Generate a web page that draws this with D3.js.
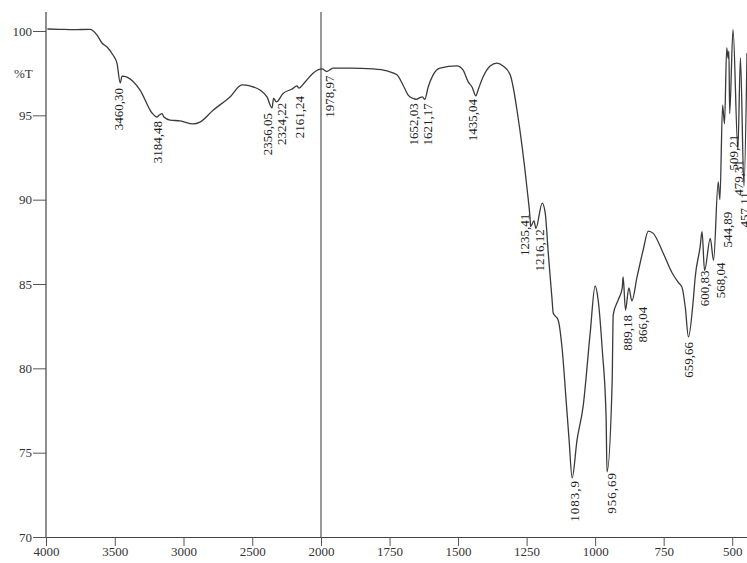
<!DOCTYPE html>
<html>
<head>
<meta charset="utf-8">
<script src="https://cdn.jsdelivr.net/npm/d3@7"></script>
<style>
  body { margin: 0; background: #fff; }
  svg { display: block; }
  .tick text { font-family: "Liberation Serif", "Times New Roman", serif; font-size: 13px; fill: #333; }
  .peak { font-family: "Liberation Serif", "Times New Roman", serif; font-size: 13px; fill: #222; }
</style>
</head>
<body>
<div id="container"></div>
<script>
/* CONSTANTS AND GLOBALS */
const width = 747,
  height = 563,
  margin = { top: 12, bottom: 26, left: 46, right: 0 };

/* DATA */
// wavenumber (cm-1) of each traced point, high to low
const wavenumbers = [
  3990, 3900, 3800, 3680, 3629, 3593, 3556, 3513, 3484, 3460,
  3447, 3411, 3316, 3229, 3193, 3184, 3156, 3142, 3098, 3025,
  2931, 2880, 2785, 2662, 2575, 2516, 2444, 2393, 2356.05, 2345,
  2324.22, 2276, 2211, 2175, 2161.24, 2116, 2058, 1996, 1978.97, 1956,
  1894, 1810, 1759, 1723, 1701, 1682, 1664, 1652.03, 1639, 1630,
  1621.17, 1609, 1591, 1566, 1504, 1482, 1463, 1449, 1435.04, 1427,
  1409, 1383, 1358, 1336, 1310, 1299, 1285, 1266, 1248, 1237,
  1235.41, 1223, 1216.12, 1193, 1182, 1171, 1157, 1153, 1135, 1120,
  1106, 1095, 1083.9, 1066, 1044, 1018, 1000, 989, 974, 960,
  956.69, 938, 934, 916, 901, 898, 889.18, 877, 866.04, 847,
  825, 806, 788, 752, 719, 697, 683, 671, 659.66, 642,
  635, 617, 610, 600.83, 580, 568.04, 551, 544.89, 535, 528,
  520, 515, 512, 509.21, 497, 479.31, 470, 457.11, 446
];
// transmittance (%T) at each wavenumber
const transmittance = [
  100.12, 100.1, 100.08, 100.1, 99.76, 99.29, 99.05, 98.58, 98.1, 96.92,
  97.33, 97.27, 96.5, 95.14, 94.9, 94.96, 95.1, 94.9, 94.72, 94.67,
  94.49, 94.6, 95.3, 96.09, 96.8, 96.74, 96.5, 96.09, 95.44, 96.0,
  95.8, 96.3, 96.56, 96.75, 96.62, 96.98, 97.5, 97.75, 97.6, 97.8,
  97.8, 97.75, 97.63, 97.4, 96.8, 96.2, 96.0, 95.95, 96.05, 96.1,
  95.95, 96.68, 97.4, 97.8, 97.93, 97.69, 96.98, 96.68, 96.15, 96.5,
  97.27, 97.93, 98.1, 97.93, 97.4, 96.68, 95.3, 93.1, 90.6, 88.8,
  88.4, 88.74, 88.3, 89.8, 89.2, 86.84, 84.05, 83.28, 82.87, 81.1,
  78.13, 75.76, 73.5, 75.76, 77.71, 82.1, 84.88, 84.05, 81.1, 77.1,
  73.86, 79.13, 83.17, 84.05, 84.77, 85.42, 83.46, 84.77, 84.0, 85.42,
  87.0, 88.14, 88.0, 86.84, 85.65, 85.1, 84.8, 83.6, 81.86, 84.05,
  85.4, 87.2, 88.1, 85.8, 87.7, 86.4, 91.05, 90.0, 95.6, 94.5,
  99.0, 98.4, 98.8, 95.1, 100.1, 93.0, 98.4, 90.8, 98.7
];

// peak labels (as printed on the spectrum)
const peakTexts = [
  "3460,30", "3184,48", "2356,05", "2324,22", "2161,24", "1978,97",
  "1652,03", "1621,17", "1435,04", "1235,41", "1216,12", "1083,9",
  "956,69", "889,18", "866,04", "659,66", "600,83", "568,04",
  "544,89", "509,21", "479,31", "457,11"
];
const peakWn = [
  3460, 3184, 2356.05, 2324.22, 2161.24, 1978.97,
  1652.03, 1621.17, 1435.04, 1235.41, 1216.12, 1083.9,
  956.69, 889.18, 866.04, 659.66, 600.83, 568.04,
  544.89, 509.21, 479.31, 457.11
];

const xTicks = [4000, 3500, 3000, 2500, 2000, 1750, 1500, 1250, 1000, 750, 500];
const yTicks = [70, 75, 80, 85, 90, 95, 100];

// label nudges in px [dx, dy] so the printed labels don't collide
const labelNudge = [
  [-2, 0], [-1, 0], [-5, 0], [5, -4], [1, 3], [3, -1],
  [-3, -1], [3, -1], [-3, -2], [-6, -18], [4, -4], [2, -3],
  [4, -5], [2, 0], [11, 1], [0, 0], [0, -5], [7, -3],
  [8, 7], [4, 16], [1, 6], [0, 1]
];
const spacedLabels = ["1083,9", "956,69"];

const data = wavenumbers.map((w, i) => ({ wn: w, t: transmittance[i] }));
const tAt = w => data.find(d => d.wn === w).t;

// SCALES (x scale doubles its stretch below 2000 cm-1)
const xScale = d3.scaleLinear()
  .domain([4000, 2000, 446])
  .range([margin.left, 321, width - margin.right]);

const yScale = d3.scaleLinear()
  .domain([70, 100])
  .range([height - margin.bottom, 31]);

// CREATE SVG ELEMENT
const svg = d3.select("#container")
  .append("svg")
  .attr("width", width)
  .attr("height", height)
  .style("background-color", "#fff");

// AXES
const xAxis = d3.axisBottom(xScale)
  .tickValues(xTicks)
  .tickFormat(d3.format("d"))
  .tickSize(9)
  .tickSizeOuter(0)
  .tickPadding(1);

const xAxisGroup = svg.append("g")
  .attr("class", "xAxis")
  .attr("transform", `translate(0, ${height - margin.bottom})`)
  .call(xAxis);
xAxisGroup.select(".domain").attr("stroke", "#444").attr("stroke-width", 1.2);
xAxisGroup.selectAll(".tick line").attr("stroke", "#555");

const yAxis = d3.axisLeft(yScale)
  .tickValues(yTicks)
  .tickSize(13)
  .tickPadding(1);

const yAxisGroup = svg.append("g")
  .attr("class", "yAxis")
  .attr("transform", `translate(${margin.left}, 0)`)
  .call(yAxis);
yAxisGroup.select(".domain").remove();
yAxisGroup.selectAll(".tick line").attr("stroke", "#555");

// axis line runs up past 100
yAxisGroup.append("line")
  .attr("y1", margin.top)
  .attr("y2", height - margin.bottom)
  .attr("stroke", "#444")
  .attr("stroke-width", 1.2);

yAxisGroup.append("text")
  .attr("class", "yLabel")
  .attr("x", -32)
  .attr("y", 78)
  .attr("text-anchor", "start")
  .attr("font-family", "Liberation Serif, Times New Roman, serif")
  .attr("font-size", 13)
  .attr("fill", "#333")
  .text("%T");

// divider at 2000 cm-1
svg.append("line")
  .attr("x1", xScale(2000))
  .attr("x2", xScale(2000))
  .attr("y1", margin.top)
  .attr("y2", height - margin.bottom)
  .attr("stroke", "#555")
  .attr("stroke-width", 1.2);

// LINE GENERATOR FUNCTION
const lineGen = d3.line()
  .x(d => xScale(d.wn))
  .y(d => yScale(d.t))
  .curve(d3.curveMonotoneX);

svg.append("path")
  .datum(data)
  .attr("class", "trend")
  .attr("fill", "none")
  .attr("stroke", "#3a3a3a")
  .attr("stroke-width", 1.3)
  .attr("d", lineGen);

// PEAK LABELS
svg.selectAll(".peak")
  .data(peakTexts)
  .join("text")
  .attr("class", "peak")
  .attr("text-anchor", "end")
  .attr("dy", "0.35em")
  .attr("letter-spacing", d => spacedLabels.includes(d) ? 1 : 0)
  .attr("transform", (d, i) => {
    const x = xScale(peakWn[i]) + labelNudge[i][0];
    const y = yScale(tAt(peakWn[i])) + 5 + labelNudge[i][1];
    return `translate(${x}, ${y}) rotate(-90)`;
  })
  .text(d => d);
</script>
</body>
</html>
